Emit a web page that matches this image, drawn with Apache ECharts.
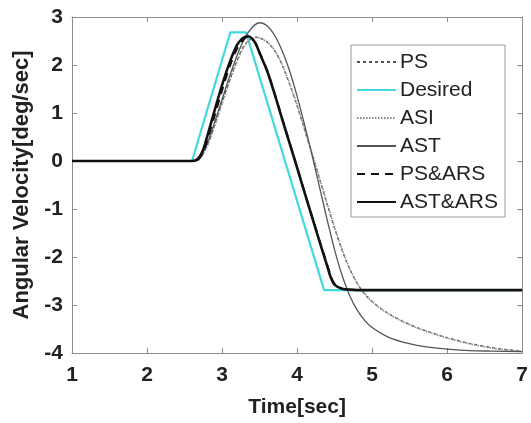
<!DOCTYPE html>
<html>
<head>
<meta charset="utf-8">
<script src="https://cdn.jsdelivr.net/npm/echarts@6/dist/echarts.min.js"></script>
<style>
html,body{margin:0;padding:0;background:#fff;}
#chart{width:531px;height:423px;}
</style>
</head>
<body>
<div id="chart"></div>
<script>
// ---- data (time [sec], angular velocity [deg/sec]) ----
const xTicks = [1, 2, 3, 4, 5, 6, 7];
const yTicks = [-4, -3, -2, -1, 0, 1, 2, 3];

const desired = [[1,0],[2.6,0],[3.11,2.68],[3.32,2.68],[4.36,-2.69],[7,-2.69]];

const ps = [[1,0],[2.6,0],[2.65,0],[2.7,0.05],[2.8,0.32],[2.9,0.75],[3.0,1.22],[3.1,1.68],[3.2,2.10],[3.3,2.42],[3.4,2.56],[3.47,2.58],[3.5,2.57],[3.6,2.48],[3.7,2.30],[3.8,2.00],[3.9,1.60],[4.0,1.15],[4.1,0.65],[4.2,0.14],[4.3,-0.38],[4.4,-0.90],[4.5,-1.40],[4.6,-1.86],[4.7,-2.25],[4.8,-2.55],[4.9,-2.77],[5.0,-2.93],[5.2,-3.16],[5.4,-3.33],[5.6,-3.47],[5.8,-3.58],[6.0,-3.68],[6.3,-3.80],[6.6,-3.89],[6.8,-3.93],[7.0,-3.96]];

const asi = [[1,0],[2.6,0],[2.65,0],[2.7,0.04],[2.8,0.30],[2.9,0.72],[3.0,1.19],[3.1,1.65],[3.2,2.07],[3.3,2.40],[3.4,2.55],[3.48,2.57],[3.5,2.56],[3.6,2.48],[3.7,2.31],[3.8,2.02],[3.9,1.62],[4.0,1.17],[4.1,0.67],[4.2,0.16],[4.3,-0.36],[4.4,-0.88],[4.5,-1.38],[4.6,-1.84],[4.7,-2.23],[4.8,-2.54],[4.9,-2.76],[5.0,-2.93],[5.2,-3.17],[5.4,-3.34],[5.6,-3.48],[5.8,-3.59],[6.0,-3.69],[6.3,-3.81],[6.6,-3.90],[6.8,-3.94],[7.0,-3.96]];

const ast = [[1,0],[2.6,0],[2.65,0],[2.7,0.06],[2.8,0.36],[2.9,0.80],[3.0,1.28],[3.1,1.76],[3.2,2.20],[3.3,2.55],[3.4,2.78],[3.5,2.88],[3.6,2.82],[3.7,2.62],[3.8,2.30],[3.9,1.88],[4.0,1.35],[4.1,0.75],[4.2,0.12],[4.3,-0.55],[4.4,-1.22],[4.5,-1.85],[4.6,-2.38],[4.7,-2.80],[4.8,-3.10],[4.9,-3.32],[5.0,-3.47],[5.2,-3.66],[5.4,-3.77],[5.6,-3.84],[5.8,-3.89],[6.0,-3.92],[6.3,-3.95],[6.6,-3.96],[7.0,-3.97]];

const psArs = [[1,0],[2.6,0],[2.65,0.01],[2.7,0.06],[2.75,0.18],[2.8,0.42],[2.9,0.94],[3.0,1.47],[3.1,1.96],[3.2,2.34],[3.3,2.55],[3.35,2.59],[3.4,2.55],[3.45,2.44],[3.5,2.26],[3.6,1.89],[3.7,1.41],[3.8,0.89],[3.9,0.38],[4.0,-0.13],[4.1,-0.65],[4.2,-1.16],[4.3,-1.67],[4.4,-2.16],[4.45,-2.40],[4.5,-2.56],[4.6,-2.66],[4.7,-2.68],[4.8,-2.69],[7.0,-2.69]];

const astArs = [[1,0],[2.6,0],[2.65,0.02],[2.7,0.09],[2.75,0.24],[2.8,0.50],[2.9,1.05],[3.0,1.58],[3.1,2.05],[3.2,2.42],[3.25,2.52],[3.3,2.58],[3.35,2.60],[3.4,2.55],[3.45,2.44],[3.5,2.25],[3.6,1.88],[3.7,1.40],[3.8,0.88],[3.9,0.37],[4.0,-0.14],[4.1,-0.66],[4.2,-1.17],[4.3,-1.68],[4.4,-2.18],[4.45,-2.43],[4.5,-2.58],[4.6,-2.66],[4.7,-2.68],[4.8,-2.69],[7.0,-2.69]];

// ---- chart ----
const FONT = '"Liberation Sans", Arial, sans-serif';
const axisGrey = '#8c8c8c';
const chart = echarts.init(document.getElementById('chart'), null, {renderer: 'canvas'});

function lineSeries(name, data, color, width, type, smooth, z) {
  return {
    name: name, type: 'line', data: data, xAxisIndex: 0, yAxisIndex: 0,
    symbol: 'none', showSymbol: false, smooth: smooth, z: z,
    lineStyle: {color: color, width: width, type: type},
    itemStyle: {color: color},
    emphasis: {disabled: true},
    animation: false
  };
}

const option = {
  animation: false,
  backgroundColor: '#ffffff',
  grid: {left: 72, right: 7, top: 17, bottom: 69, containLabel: false},
  legend: {
    left: 351, top: 45, orient: 'vertical',
    data: ['PS', 'Desired', 'ASI', 'AST', 'PS&ARS', 'AST&ARS'],
    itemWidth: 39, itemHeight: 14, itemGap: 6,
    padding: [6, 7, 4, 5],
    borderColor: '#9a9a9a', borderWidth: 1, backgroundColor: '#ffffff',
    itemStyle: {opacity: 0},
    textStyle: {fontFamily: FONT, fontSize: 21, color: '#222', lineHeight: 22, padding: [0, 0, 0, -1]},
    selectedMode: false
  },
  xAxis: [{
    type: 'value', min: 1, max: 7, interval: 1, position: 'bottom',
    name: 'Time[sec]', nameLocation: 'middle', nameGap: 44,
    nameTextStyle: {fontFamily: FONT, fontSize: 21, fontWeight: 'bold', color: '#222', letterSpacing: -1},
    axisLine: {show: true, onZero: false, lineStyle: {color: axisGrey, width: 1}},
    axisTick: {show: true, inside: true, length: 5, lineStyle: {color: axisGrey}},
    axisLabel: {fontFamily: FONT, fontSize: 21, fontWeight: 'bold', color: '#222', margin: 12,
      formatter: function (v) { return xTicks.indexOf(v) >= 0 ? String(v) : ''; }},
    splitLine: {show: false}
  }, {
    type: 'value', min: 1, max: 7, interval: 1, position: 'top',
    axisLine: {show: true, onZero: false, lineStyle: {color: axisGrey, width: 1}},
    axisTick: {show: true, inside: true, length: 5, lineStyle: {color: axisGrey}},
    axisLabel: {show: false}, splitLine: {show: false}
  }],
  yAxis: [{
    type: 'value', min: -4, max: 3, interval: 1, position: 'left',
    name: 'Angular Velocity[deg/sec]', nameLocation: 'middle', nameGap: 35, nameRotate: 90,
    nameTextStyle: {fontFamily: FONT, fontSize: 22, fontWeight: 'bold', color: '#222'},
    axisLine: {show: true, onZero: false, lineStyle: {color: axisGrey, width: 1}},
    axisTick: {show: true, inside: true, length: 5, lineStyle: {color: axisGrey}},
    axisLabel: {fontFamily: FONT, fontSize: 21, fontWeight: 'bold', color: '#222', margin: 9,
      formatter: function (v) { return yTicks.indexOf(v) >= 0 ? String(v) : ''; }},
    splitLine: {show: false}
  }, {
    type: 'value', min: -4, max: 3, interval: 1, position: 'right',
    axisLine: {show: true, onZero: false, lineStyle: {color: axisGrey, width: 1}},
    axisTick: {show: true, inside: true, length: 5, lineStyle: {color: axisGrey}},
    axisLabel: {show: false}, splitLine: {show: false}
  }],
  series: [
    lineSeries('PS', ps, '#555555', 1.3, [3, 3], 0.3, 3),
    lineSeries('Desired', desired, '#45d8dd', 2.2, 'solid', false, 2),
    lineSeries('ASI', asi, '#8a8a8a', 1.6, [1.5, 1.5], 0.3, 4),
    lineSeries('AST', ast, '#555555', 1.3, 'solid', 0.3, 5),
    lineSeries('PS&ARS', psArs, '#111111', 2, [8, 6], 0.3, 6),
    lineSeries('AST&ARS', astArs, '#111111', 2.6, 'solid', 0.3, 7)
  ]
};
chart.setOption(option);
</script>
</body>
</html>
